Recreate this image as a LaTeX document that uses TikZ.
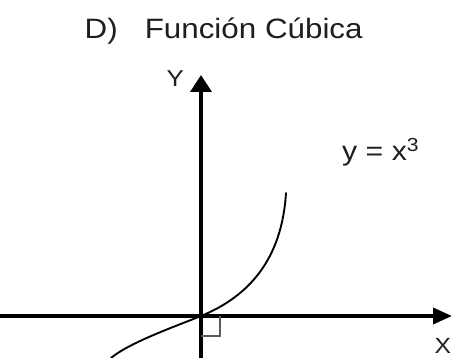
\documentclass[tikz,border=0pt]{standalone}
\usepackage{fontspec}
\setmainfont[FakeStretch=1.12]{Liberation Sans}
\usetikzlibrary{arrows.meta}
\definecolor{AxisBlack}{RGB}{0,0,0}
\definecolor{TextGrey}{RGB}{30,30,30}
\definecolor{MarkGrey}{RGB}{90,90,90}

\begin{document}
\begin{tikzpicture}[x=1pt, y=-1pt,
    axis/.style={draw=AxisBlack, line width=3.6pt},
    curveline/.style={draw=AxisBlack, line width=1.9pt},
    label/.style={inner sep=0pt, anchor=base west, text=TextGrey}]
                \useasboundingbox (0,0) rectangle (451,358);
                % Title
                \node[label, font=\fontsize{28}{32}\selectfont] (title) at (84.5,38.3) {D)\hspace{27pt}Función Cúbica};
                % Points of the axes
                \coordinate (O) at (201,316);
                \coordinate (ytip) at (201,75);
                \coordinate (ybot) at (201,362);
                \coordinate (xleft) at (-3,316);
                \coordinate (xtip) at (452,316);
                % Axes with arrows
                \draw[axis, -{Triangle[width=21pt, length=17pt]}] (ybot) -- (ytip);
                \draw[axis, -{Triangle[width=16pt, length=19pt]}] (xleft) -- (xtip);
                \node[label, font=\fontsize{23}{27}\selectfont] (ylabel) at (166.5,86.7) {Y};
                \node[label, font=\fontsize{22}{26}\selectfont] (xlabel) at (434.5,353.5) {X};
                % Right angle mark at the origin
                \coordinate (mA) at (201,336);
                \coordinate (mB) at (220,336);
                \coordinate (mC) at (220,316);
                \draw[MarkGrey, line width=1.1pt] (mA) -- (mB) -- (mC);
                % The cubic curve
                \coordinate (cstart) at (111,358);
                \coordinate (cend) at (286,193);
                \draw[curveline, line cap=round] (cstart) .. controls (129,343) and (171,328) .. (O)
                    .. controls (250,296) and (282,258) .. (cend);
                \node[label, font=\fontsize{27}{31}\selectfont] (fname) at (342,161) {y = x\textsuperscript{3}};
\end{tikzpicture}
\end{document}
